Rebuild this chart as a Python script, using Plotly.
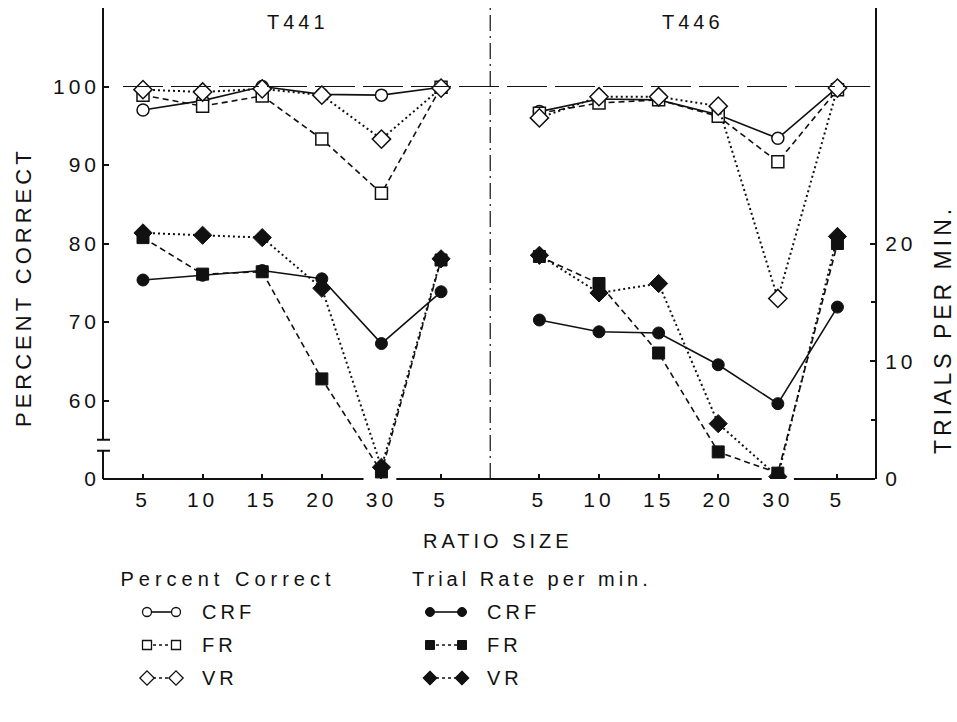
import json
import plotly.graph_objects as go

# ---------------- data ----------------
ratio_labels = ["5", "10", "15", "20", "30", "5"]
panel_names = ["T441", "T446"]

# Percent correct (open symbols, left axis)
pc_crf_t441 = [97.0, 98.2, 100.0, 99.0, 98.9, 99.9]
pc_fr_t441 = [98.9, 97.5, 98.8, 93.3, 86.4, 99.9]
pc_vr_t441 = [99.6, 99.3, 99.7, 98.9, 93.3, 99.8]
pc_crf_t446 = [96.8, 98.4, 98.3, 96.4, 93.4, 99.9]
pc_fr_t446 = [96.6, 97.9, 98.3, 96.2, 90.4, 99.6]
pc_vr_t446 = [96.0, 98.7, 98.7, 97.5, 73.0, 99.8]

# Trial rate per min (filled symbols, right axis)
tr_crf_t441 = [16.9, 17.3, 17.7, 17.0, 11.5, 15.9]
tr_fr_t441 = [20.5, 17.4, 17.6, 8.5, 0.6, 18.6]
tr_vr_t441 = [20.9, 20.7, 20.5, 16.2, 1.0, 18.7]
tr_crf_t446 = [13.5, 12.5, 12.4, 9.7, 6.4, 14.6]
tr_fr_t446 = [18.9, 16.6, 10.7, 2.3, 0.5, 20.0]
tr_vr_t446 = [19.0, 15.8, 16.6, 4.7, 0.2, 20.6]

pct_ticks = [60, 70, 80, 90, 100]
rate_ticks = [0, 10, 20]
legend_rows = ["CRF", "FR", "VR"]

# ---------------- layout helpers ----------------
W, H = 957, 722
FONT = "Liberation Sans"
BLACK = "#111111"
LS = 4                          # default letter spacing (px)
LS_WIDE = 5                     # letter spacing for the "Percent Correct" heading
GAP = 1.65                      # extra gap between the two panels (category units)
x_left = [i for i in range(len(ratio_labels))]
x_right = [i + len(ratio_labels) - 1 + GAP for i in range(len(ratio_labels))]
x_div = (x_left[-1] + x_right[0]) / 2
XR = [-0.671, 12.28]
PCT_BASE = 50                   # where the broken percent axis shows "0"


def px(x):
    return x / W


def py(y):
    return 1 - y / H


styles = {
    "CRF": dict(dash="solid", width=1.6, sym="circle", size=12, dsize=12),
    "FR": dict(dash="6px,4px", width=1.6, sym="square", size=12, dsize=12),
    "VR": dict(dash="2px,3px", width=2.0, sym="diamond", size=14, dsize=14),
}

fig = go.Figure()

pct_sets = [
    ("CRF", pc_crf_t441, pc_crf_t446),
    ("FR", pc_fr_t441, pc_fr_t446),
    ("VR", pc_vr_t441, pc_vr_t446),
]
rate_sets = [
    ("CRF", tr_crf_t441, tr_crf_t446),
    ("FR", tr_fr_t441, tr_fr_t446),
    ("VR", tr_vr_t441, tr_vr_t446),
]

for name, a, b in rate_sets:
    st = styles[name]
    for xs, ys in ((x_left, a), (x_right, b)):
        fig.add_trace(go.Scatter(
            x=xs, y=ys, yaxis="y2", mode="lines+markers", showlegend=False,
            line=dict(color=BLACK, width=st["width"], dash=st["dash"]),
            marker=dict(symbol=st["sym"], size=st["dsize"], color=BLACK,
                        line=dict(color=BLACK, width=1)),
            hoverinfo="skip"))

for name, a, b in pct_sets:
    st = styles[name]
    for xs, ys in ((x_left, a), (x_right, b)):
        fig.add_trace(go.Scatter(
            x=xs, y=ys, yaxis="y", mode="lines+markers", showlegend=False,
            line=dict(color=BLACK, width=st["width"], dash=st["dash"]),
            marker=dict(symbol=st["sym"], size=st["size"], color="white",
                        line=dict(color=BLACK, width=1.5)),
            hoverinfo="skip"))

# ---------------- legend glyphs (on a pixel-space overlay axis) ----------------
row_y0, row_dy = 612, 33
for i, name in enumerate(legend_rows):
    st = styles[name]
    yy = row_y0 + i * row_dy
    for (xa, xb), fill, lw in (((147, 176), "white", 1.3), ((430, 462), BLACK, 1)):
        fig.add_trace(go.Scatter(
            x=[xa, xb], y=[yy, yy], xaxis="x3", yaxis="y3", mode="lines+markers",
            showlegend=False, hoverinfo="skip",
            line=dict(color=BLACK, width=1.6, dash=("solid" if name == "CRF" else "3px,3px")),
            marker=dict(symbol=st["sym"], size=(9 if name != "VR" else 11), color=fill,
                        line=dict(color=BLACK, width=lw))))

# ---------------- shapes ----------------
shapes = []
ax_w = 2
# left axis (broken)
shapes.append(dict(type="line", xref="x domain", yref="y", x0=0, x1=0, y0=55, y1=110,
                   line=dict(color=BLACK, width=ax_w)))
shapes.append(dict(type="line", xref="x domain", yref="y", x0=0, x1=0, y0=PCT_BASE, y1=53.6,
                   line=dict(color=BLACK, width=ax_w)))
for yb in (55, 53.6):
    shapes.append(dict(type="line", xref="paper", yref="y", x0=px(97), x1=px(110), y0=yb, y1=yb,
                       line=dict(color=BLACK, width=ax_w)))
# bottom axis with gaps at the 30 markers
gx = [XR[0], x_left[4] - 0.3, x_left[4] + 0.25, x_right[4] - 0.27, x_right[4] + 0.27, XR[1]]
for k in range(0, len(gx), 2):
    shapes.append(dict(type="line", xref="x", yref="y domain", x0=gx[k], x1=gx[k + 1], y0=0, y1=0,
                       line=dict(color=BLACK, width=ax_w)))
# dashed 100% reference line
shapes.append(dict(type="line", xref="x", yref="y", x0=-0.336, x1=12.2, y0=100, y1=100,
                   line=dict(color=BLACK, width=1, dash="40px,8px")))
# dash-dot panel divider
shapes.append(dict(type="line", xref="x", yref="y domain", x0=x_div, x1=x_div, y0=0, y1=1,
                   line=dict(color=BLACK, width=1.2, dash="16px,5px,2px,5px")))

# ---------------- annotations ----------------
ann = []
wide_texts = ["Percent Correct"]


def txt(s, x, y, size=20, angle=0, xanchor="center"):
    ls = LS_WIDE if s in wide_texts else LS
    if xanchor == "left":
        # plotly centres annotation text; letter spacing widens it symmetrically
        x = x + len(s) * ls / 2.0
    ann.append(dict(text=s, x=px(x), y=py(y), xref="paper", yref="paper", showarrow=False,
                    xanchor=xanchor, yanchor="middle", textangle=angle,
                    font=dict(family=FONT, size=size, color=BLACK)))


txt(panel_names[0], 298, 22)
txt(panel_names[1], 693, 22)
txt("PERCENT CORRECT", 23, 287, size=22, angle=-90)
txt("TRIALS PER MIN.", 943, 330, size=23, angle=-90)
txt("RATIO SIZE", 498, 541, size=20)
txt("Percent Correct", 118, 579, size=20, xanchor="left")
txt("Trial Rate per min.", 410, 579, size=20, xanchor="left")
for i, name in enumerate(legend_rows):
    yy = row_y0 + i * row_dy
    txt(name, 200, yy, size=20, xanchor="left")
    txt(name, 485, yy, size=20, xanchor="left")

fig.update_layout(
    width=W, height=H, template="none",
    margin=dict(l=0, r=0, t=0, b=0),
    paper_bgcolor="white", plot_bgcolor="rgba(0,0,0,0)",
    font=dict(family=FONT, size=20, color=BLACK),
    showlegend=False,
    shapes=shapes, annotations=ann,
    xaxis=dict(domain=[px(103), px(875)], range=XR, showgrid=False, zeroline=False,
               showline=False, automargin=False,
               tickvals=x_left + x_right, ticktext=ratio_labels + ratio_labels,
               ticks="inside", ticklen=5, tickwidth=1.5, tickcolor=BLACK,
               ticklabelstandoff=6, tickfont=dict(family=FONT, size=21, color=BLACK)),
    yaxis=dict(domain=[py(479), py(8)], range=[PCT_BASE, 110], showgrid=False, zeroline=False,
               showline=False, automargin=False,
               tickvals=[PCT_BASE] + pct_ticks, ticktext=["0"] + [str(t) for t in pct_ticks],
               ticks="inside", ticklen=6, tickwidth=1.5, tickcolor=BLACK,
               ticklabelstandoff=2, tickfont=dict(family=FONT, size=21, color=BLACK)),
    yaxis2=dict(overlaying="y", side="right", anchor="x", range=[0, 40], showgrid=False,
                zeroline=False, showline=True, linewidth=ax_w, linecolor=BLACK, automargin=False,
                tickvals=rate_ticks, ticktext=[str(t) for t in rate_ticks],
                ticks="inside", ticklen=5, tickwidth=1.5, tickcolor=BLACK,
                minor=dict(tickvals=[5, 15], ticks="inside", ticklen=4, tickcolor=BLACK),
                ticklabelstandoff=4, tickfont=dict(family=FONT, size=21, color=BLACK)),
    xaxis3=dict(domain=[0, 1], range=[0, W], visible=False, anchor="y3", fixedrange=True),
    yaxis3=dict(domain=[0, py(505)], range=[H, 505], visible=False, anchor="x3", fixedrange=True),
)

post = """
var gd = document.getElementById('{plot_id}');
var wide = %s;
function sp(){
  gd.querySelectorAll('text').forEach(function(t){
    var s = t.textContent;
    t.style.letterSpacing = (wide.indexOf(s) >= 0 ? '%dpx' : '%dpx');
  });
}
sp(); setTimeout(sp, 50);
""" % (json.dumps(wide_texts), LS_WIDE, LS)
fig.write_html("out.html", post_script=post)
